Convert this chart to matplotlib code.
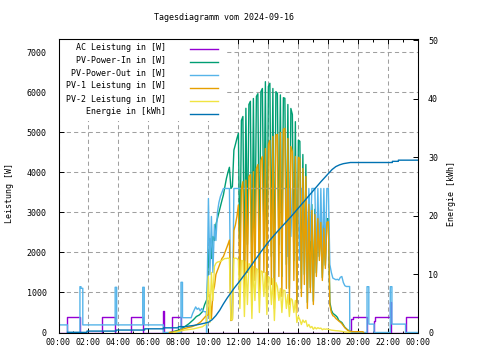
import numpy as np
import matplotlib
matplotlib.use('Agg')
import matplotlib.pyplot as plt
from matplotlib.patches import Rectangle
from matplotlib.lines import Line2D

plt.rcParams['font.family'] = 'DejaVu Sans Mono'
plt.rcParams['font.size'] = 6

# ---- data (time in hours, power in W, energy in kWh) ----
labels = ['AC Leistung in [W]', 'PV-Power-In in [W]', 'PV-Power-Out in [W]',
          'PV-1 Leistung in [W]', 'PV-2 Leistung in [W]', 'Energie in [kWh]']
colors = ['#9400d3', '#009e73', '#56b4e9', '#e69f00', '#f0e442', '#0072b2']
xtick_labels = ['00:00', '02:00', '04:00', '06:00', '08:00', '10:00', '12:00',
                '14:00', '16:00', '18:00', '20:00', '22:00', '00:00']

# AC power, held values
ac_t = [0, 0.6, 1.43, 2.9, 3.78, 4.83, 5.62, 7.0, 7.05, 7.57, 8.17,
        19.5, 19.65, 20.59, 21.05, 21.1, 22.1, 22.15, 23.15]
ac_w = [0, 380, 0, 380, 0, 380, 0, 540, 0, 380, 0,
        340, 380, 0, 290, 380, 750, 0, 380]

# PV-Power-Out: night (held), morning ramp, evening, night (held)
out_am_t = [0, 0.6, 1.43, 1.5, 1.62, 3.78, 3.88, 5.62, 5.72, 7.0, 8.17, 8.27]
out_am_w = [190, 0, 1145, 1105, 190, 1130, 190, 1130, 190, 0, 1255, 370]
out_ramp_t = [8.85, 8.95, 9.05, 9.15, 9.25, 9.35, 9.45, 9.55, 9.65, 9.75, 9.85, 9.88]
out_ramp_w = [370, 480, 560, 640, 580, 610, 540, 600, 530, 520, 520, 0]
out_eve_t = [18.6, 18.7, 18.8, 18.9, 19.0, 19.1, 19.2, 19.42, 19.43]
out_eve_w = [1330, 1310, 1380, 1400, 1250, 1170, 1150, 1150, 0]
out_pm_t = [19.43, 20.58, 20.7, 21.05, 22.13, 22.24, 23.15]
out_pm_w = [0, 1145, 210, 0, 1145, 210, 0]

# daytime readings, 10:00 to 18:30 every 6 minutes
t_day = np.round(np.arange(10.0, 18.55, 0.1), 1)
pv_out_day = [3350, 1450, 2900, 1500, 2700, 2300, 3000, 3250, 3400, 3500,
              3600, 3600, 3600, 3600, 3600, 300, 350, 3600, 3600, 3600,
              3600, 3600, 3600, 3600, 3600, 3600, 3600, 3600, 3600, 3600,
              3600, 3600, 3600, 3600, 3600, 3600, 3600, 3600, 3600, 3600,
              3600, 3600, 3600, 3600, 3600, 3600, 3600, 3600, 3600, 3600,
              3600, 3600, 3600, 1900, 3600, 2400, 3600, 3600, 3600, 3600,
              3600, 1800, 3600, 3600, 1750, 3600, 2000, 3600, 2300, 3600,
              3600, 3600, 1700, 3600, 1900, 3600, 1700, 3600, 1800, 3600,
              3600, 1700, 1500, 1360, 1340, 1320]
pv_in_day = [1850, 2350, 1850, 2400, 2300, 2700, 2850, 3000, 3150, 3300,
             3440, 3650, 3850, 4000, 4130, 3600, 3650, 4560, 4700, 4850,
             4980, 1800, 5300, 5400, 1300, 5605, 2200, 5700, 5780, 1050,
             5850, 2100, 5900, 5970, 1500, 6020, 6100, 2400, 6270, 1250,
             6150, 6230, 1900, 6100, 900, 6020, 5980, 2200, 5940, 1400,
             5870, 5855, 1700, 5700, 1100, 5600, 5450, 1800, 5270, 750,
             4810, 4780, 1100, 4450, 1450, 4200, 750, 3400, 1120, 3200,
             780, 3080, 1490, 2970, 1900, 2860, 1370, 2690, 1680, 2840,
             2850, 760, 560, 480, 450, 420]
pv1_day = [450, 950, 350, 1000, 1150, 1450, 1550, 1650, 1750, 1850,
           1900, 2000, 2100, 2200, 2310, 300, 320, 2550, 2690, 2900,
           3190, 1200, 3600, 3770, 900, 3810, 1500, 3900, 3950, 700,
           4020, 1300, 4100, 4200, 1000, 4310, 4400, 1500, 4600, 800,
           4700, 4800, 1200, 4900, 600, 4940, 4950, 1400, 5000, 900,
           5080, 5105, 1100, 4850, 700, 4650, 4520, 1300, 4400, 500,
           4380, 4350, 900, 4100, 1200, 3900, 600, 3200, 1000, 3050,
           700, 2950, 1400, 2850, 1800, 2750, 1300, 2600, 1600, 2750,
           2770, 690, 500, 420, 400, 350]
pv2_day = [1400, 250, 1500, 800, 1650, 1730, 1760, 1770, 1780, 1800,
           1830, 1850, 1850, 1860, 1850, 310, 330, 1850, 1860, 1850,
           1810, 600, 1800, 1790, 400, 1770, 700, 1720, 1700, 350,
           1650, 800, 1600, 1560, 500, 1540, 1520, 900, 1500, 450,
           1400, 1355, 700, 1350, 300, 1250, 1150, 800, 1100, 500,
           1060, 1050, 600, 950, 400, 850, 812, 500, 800, 250,
           400, 320, 200, 312, 250, 300, 150, 200, 120, 150,
           80, 130, 90, 120, 100, 110, 70, 90, 80, 90,
           80, 70, 60, 55, 50, 45]

# PV-Power-In / PV-1 / PV-2 outside the daytime block
in_ramp_t = [7.45, 8.0, 8.4, 8.7, 9.0, 9.2, 9.4, 9.6, 9.75, 9.9]
in_ramp_w = [0, 60, 140, 220, 320, 400, 440, 520, 700, 830]
in_eve_t = [18.6, 18.7, 18.9, 19.1, 19.3, 19.6, 20.3]
in_eve_w = [380, 300, 250, 130, 60, 20, 0]
pv1_ramp_t = [7.4, 8.0, 8.4, 8.9, 9.2, 9.5, 9.8]
pv1_ramp_w = [0, 35, 100, 145, 190, 270, 400]
pv1_eve_t = [18.6, 18.88, 19.1, 19.32, 19.6, 20.3, 20.35]
pv1_eve_w = [320, 230, 120, 45, 20, 20, 0]
pv2_ramp_t = [7.7, 8.4, 9.0, 9.6, 9.85]
pv2_ramp_w = [0, 60, 90, 145, 210]
pv2_eve_t = [18.7, 19.0, 19.45]
pv2_eve_w = [40, 20, 0]

# energy counter
e_am_t = [0.6, 1.9, 3.85, 5.75, 7.0, 8.0]
e_am_v = [0.02, 0.24, 0.42, 0.63, 0.8, 1.0]
e_t = [8.4, 9.0, 9.5, 10.0, 10.25, 10.5, 10.75, 11.0, 11.25, 11.5, 11.75, 12.0,
       12.5, 13.0, 13.5, 14.0, 14.5, 15.0, 15.5, 16.0, 16.5, 17.0, 17.5, 18.0,
       18.25, 18.5, 18.75, 19.0, 19.47]
e_v = [1.0, 1.2, 1.45, 1.75, 2.2, 2.9, 3.8, 4.9, 5.9, 6.8, 7.7, 8.5,
       10.2, 12.0, 13.8, 15.5, 17.0, 18.4, 19.8, 21.3, 22.8, 24.3, 25.8, 27.2,
       27.9, 28.4, 28.7, 28.9, 29.1]
e_pm_t = [19.47, 22.27, 22.67]
e_pm_v = [29.1, 29.3, 29.5]


def steps(t, v, t_end):
    # hold each value until the next time stamp
    xs, ys = [], []
    edges = list(t) + [t_end]
    for a, b, y in zip(edges[:-1], edges[1:], v):
        xs += [a, b]
        ys += [y, y]
    return xs, ys


W, H = 480, 360
fig = plt.figure(figsize=(4.8, 3.6), dpi=100)
ax = fig.add_axes([58.5/W, 1-332.5/H, (418.3-58.5)/W, (332.5-39)/H])
ax.set_axisbelow(True)

# AC
x, y = steps(ac_t, ac_w, 24)
ax.plot(x, y, color=colors[0], lw=1.0)
# PV-Power-In
ax.plot(in_ramp_t + list(t_day) + in_eve_t, in_ramp_w + pv_in_day + in_eve_w,
        color=colors[1], lw=1.0)
# PV-Power-Out
xa, ya = steps(out_am_t, out_am_w, 8.85)
xb, yb = steps(out_pm_t, out_pm_w, 24)
ax.plot(xa + out_ramp_t + list(t_day) + out_eve_t + xb,
        ya + out_ramp_w + pv_out_day + out_eve_w + yb, color=colors[2], lw=1.0)
# PV-1, PV-2
ax.plot(pv1_ramp_t + list(t_day) + pv1_eve_t, pv1_ramp_w + pv1_day + pv1_eve_w,
        color=colors[3], lw=1.0)
ax.plot(pv2_ramp_t + list(t_day) + pv2_eve_t, pv2_ramp_w + pv2_day + pv2_eve_w,
        color=colors[4], lw=1.0)

ax.set_xlim(0, 24)
ax.set_ylim(0, 7337)
ax.set_xticks(range(0, 25, 2))
ax.set_xticklabels(xtick_labels)
ax.set_xticks(range(1, 24, 2), minor=True)
ax.set_yticks(range(0, 7001, 1000))
ax.grid(True, which='major', color='#a0a0a0', ls=(0, (4, 3)), lw=0.75)
ax.tick_params(which='major', direction='in', length=3.6, width=0.7, top=True, right=True)
ax.tick_params(axis='x', which='minor', direction='in', length=1.8, width=0.7, top=True)
ax.tick_params(axis='x', pad=4)
ax.tick_params(axis='y', pad=8.5)
for s in ax.spines.values():
    s.set_linewidth(0.75)

# energy on the right axis
ax2 = ax.twinx()
xa, ya = steps(e_am_t, e_am_v, 8.4)
xb, yb = steps(e_pm_t, e_pm_v, 24)
ax2.plot(xa + e_t + xb, ya + e_v + yb, color=colors[5], lw=1.0)
ax2.set_ylim(0, 50.24)
ax2.set_yticks(range(0, 51, 10))
ax2.tick_params(axis='y', direction='in', length=3.6, width=0.7, pad=7)
for s in ax2.spines.values():
    s.set_linewidth(0.75)

# legend, gnuplot style: text right aligned, sample to the right
ax.add_patch(Rectangle((59/W, 1-121/H), (226-59)/W, (121-40)/H, transform=fig.transFigure,
                       facecolor='white', edgecolor='none', zorder=1, clip_on=False))
for k, (lab, c) in enumerate(zip(labels, colors)):
    yy = 47 + 13*k
    fig.text(166/W, 1-yy/H, lab, ha='right', va='center')
    fig.add_artist(Line2D([190/W, 218/W], [1-(yy+2)/H]*2, color=c, lw=1.0))

fig.text(224/W, 1-18/H, 'Tagesdiagramm vom 2024-09-16', ha='center', va='center')
fig.text(10/W, 1-193/H, 'Leistung [W]', rotation=90, ha='center', va='center')
fig.text(452/W, 1-194/H, 'Energie [kWh]', rotation=90, ha='center', va='center')

fig.savefig('out.png', dpi=100)
